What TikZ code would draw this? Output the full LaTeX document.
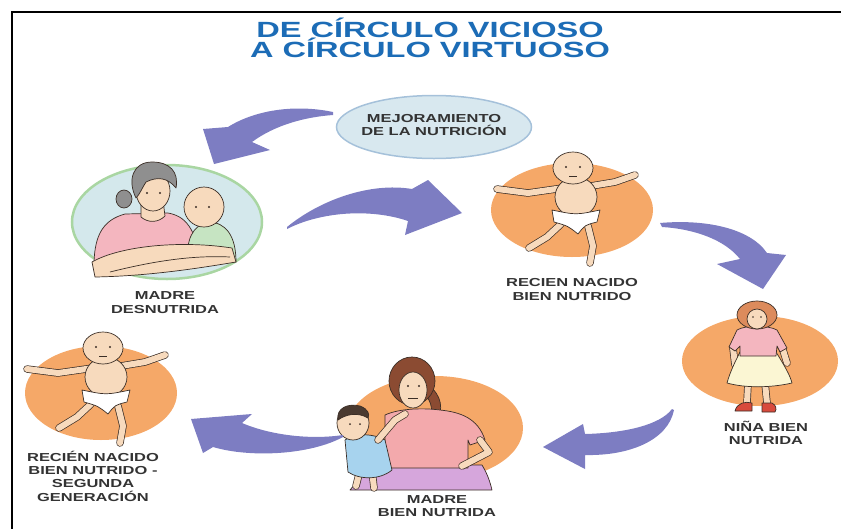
\documentclass[tikz,border=0pt]{standalone}
\usepackage{fontspec}
\newfontfamily\lblfont{Liberation Sans}[FakeStretch=1.42]
\newfontfamily\ttlfont{Liberation Sans}[FakeStretch=1.48]
\usetikzlibrary{shapes.geometric}
\definecolor{arrowc}{HTML}{7D7DC2}
\definecolor{orangec}{HTML}{F5A868}
\definecolor{skin}{HTML}{F7DABD}
\definecolor{outl}{HTML}{3B2E26}
\definecolor{titleblue}{HTML}{1C6CB6}
\definecolor{lblgray}{HTML}{333333}
\definecolor{palecirc}{HTML}{D4E8EC}
\definecolor{greenring}{HTML}{A9D6A2}
\definecolor{ellfill}{HTML}{D8E8EF}
\definecolor{elldraw}{HTML}{A5C1DA}
\definecolor{pinkshirt}{HTML}{F4B6BF}
\definecolor{greenshirt}{HTML}{C6E4C2}
\definecolor{grayhair}{HTML}{8F8F8F}
\definecolor{redhair}{HTML}{DC8B5C}
\definecolor{cream}{HTML}{FBF6D3}
\definecolor{shoered}{HTML}{D84A3C}
\definecolor{brownhair}{HTML}{8B4B32}
\definecolor{salmon}{HTML}{F3A9AC}
\definecolor{lavender}{HTML}{D6A6DC}
\definecolor{overall}{HTML}{A7D3EE}
\definecolor{darkhair}{HTML}{4A3A30}
\tikzset{
  bigarrow/.style={fill=arrowc, draw=none},
  lbl/.style={font={\lblfont\bfseries\fontsize{11.6}{13.3}\selectfont}, text=lblgray, align=center, inner sep=0pt},
  ttl/.style={font={\ttlfont\bfseries\fontsize{22}{20.5}\selectfont}, text=titleblue, align=center, inner sep=0pt},
  figline/.style={draw=outl, line width=0.7pt, line join=round},
  limb/.style={draw=outl, double=skin, double distance=6pt, line width=0.7pt, line cap=round, line join=round},
  orangedisc/.style={fill=orangec},
  baby/.pic={
    \draw[limb] (-12,56) -- (-26,69) -- (-44,80);
    \draw[limb] (15,58) -- (20,78) -- (17,95);
    \draw[limb] (-10,20) -- (-45,25) -- (-76,21);
    \draw[limb] (18,18) -- (42,14) -- (62,7);
    \draw[figline, fill=skin] (3,29) ellipse (21pt and 20pt);
    \draw[figline, fill=white] (-21,42) .. controls (3,47) .. (27,42) -- (24,54) .. controls (12,57) .. (5,66) .. controls (-5,58) .. (-19,54) -- cycle;
    \draw[figline, fill=skin] (0,0) ellipse (20pt and 16pt);
    \fill[outl] (-7,-1) circle (1.2pt) (7,-1) circle (1.2pt);
    \draw[outl, line width=0.6pt] (-4,8) -- (4,8);
  }
}
\begin{document}
\begin{tikzpicture}[x=1pt, y=-1pt]
\useasboundingbox (0,0) rectangle (841,528);
% frame
\draw[line width=2pt] (12,540) -- (12,12) -- (860,12);
% title
\node[ttl] (title) at (430,38) {DE CÍRCULO VICIOSO\\A CÍRCULO VIRTUOSO};

% ---------- backgrounds
\draw[fill=palecirc, draw=greenring, line width=2.5pt] (167,222) ellipse (95pt and 57pt);
\fill[orangedisc] (572,210) ellipse (81pt and 47pt);
\fill[orangedisc] (760,361) ellipse (78pt and 45pt);
\fill[orangedisc] (435,428) ellipse (88pt and 52pt);
\fill[orangedisc] (101,393) ellipse (76pt and 47pt);

% ---------- madre desnutrida
\draw[figline, fill=pinkshirt] (94,262) .. controls (95,235) and (103,220) .. (125,214) -- (168,213) .. controls (185,216) and (196,228) .. (200,262) -- cycle;
\draw[figline, fill=skin] (141,200) -- (141,217) .. controls (148,223) and (158,223) .. (165,216) -- (163,200) -- cycle;
\draw[figline, fill=grayhair] (124,199) ellipse (8pt and 9pt);
\draw[figline, fill=skin] (153,191) ellipse (17pt and 20pt);
\draw[figline, fill=grayhair] (136,198) .. controls (127,180) and (133,162) .. (152,162) .. controls (170,162) and (179,172) .. (176,188) .. controls (168,178) and (158,176) .. (146,182) .. controls (142,188) and (140,194) .. (136,198) -- cycle;
\fill[outl] (147,193) circle (1.1pt) (160,193) circle (1.1pt);
\draw[figline, fill=greenshirt] (188,262) .. controls (186,240) and (192,226) .. (208,222) .. controls (226,222) and (236,236) .. (236,262) -- cycle;
\draw[figline, fill=skin] (204,207) ellipse (20pt and 20pt);
\fill[outl] (196,207) circle (1.1pt) (209,207) circle (1.1pt);
\draw[figline, fill=skin] (92,262) .. controls (120,246) and (180,240) .. (232,248) -- (236,262) .. controls (200,268) and (150,276) .. (95,277) -- cycle;
\draw[figline] (110,272) .. controls (150,262) and (190,255) .. (230,257);

% ---------- babies
\pic at (573,168) {baby};
\pic at (103,348) {baby};

% ---------- nina
\draw[limb] (748,383) -- (747,403);
\draw[limb] (765,383) -- (767,403);
\draw[figline, fill=shoered] (735,411) .. controls (737,403) and (745,401) .. (752,403) -- (752,411) -- cycle;
\draw[figline, fill=shoered] (762,403) -- (772,403) .. controls (776,405) and (777,409) .. (775,412) -- (762,412) -- cycle;
\draw[limb] (733,348) -- (735,365);
\draw[limb] (783,350) -- (787,363);
\draw[figline, fill=cream] (740,352) -- (776,352) .. controls (784,365) and (790,375) .. (792,383) .. controls (770,388) and (745,388) .. (727,383) .. controls (730,372) and (735,362) .. (740,352) -- cycle;
\draw[figline, fill=pinkshirt] (737,330) .. controls (745,325) and (768,325) .. (777,330) -- (787,348) -- (780,352) -- (777,346) -- (776,356) -- (740,356) -- (740,346) -- (735,351) -- (729,347) -- cycle;
\draw[figline, fill=redhair] (757,315) ellipse (20pt and 14pt);
\draw[figline, fill=skin] (757,319) ellipse (10pt and 10pt);
\fill[outl] (753,317) circle (0.9pt) (761,317) circle (0.9pt);

% ---------- madre bien nutrida
\draw[figline, fill=lavender] (350,490) .. controls (360,478) and (368,470) .. (380,465) -- (482,465) .. controls (488,475) and (490,482) .. (492,490) -- cycle;
\draw[figline, fill=brownhair] (428,385) .. controls (442,395) and (444,410) .. (436,422) -- (430,420) .. controls (434,408) and (430,398) .. (422,392) -- cycle;
\draw[figline, fill=salmon] (385,415) .. controls (400,408) and (425,408) .. (440,410) .. controls (460,412) and (478,418) .. (485,440) -- (470,445) -- (468,440) -- (468,468) -- (385,468) -- cycle;
\draw[limb] (480,440) -- (489,452) -- (462,466);
\draw[figline, fill=brownhair] (412,381) ellipse (23pt and 24pt);
\draw[figline, fill=skin] (413,390) ellipse (14pt and 18pt);
\fill[outl] (408,386) circle (1.1pt) (419,386) circle (1.1pt);
\draw[outl, line width=0.6pt] (408,398) -- (418,398);
\draw[limb] (360,470) -- (356,486);
\draw[limb] (372,470) -- (374,488);
\draw[figline, fill=overall] (345,440) .. controls (355,432) and (375,434) .. (385,440) -- (392,470) .. controls (380,480) and (360,480) .. (348,472) -- cycle;
\draw[limb] (378,440) -- (395,420) -- (405,414);
\draw[figline, fill=skin] (353,423) ellipse (16pt and 17pt);
\draw[figline, fill=darkhair] (338,420) .. controls (336,408) and (348,403) .. (360,406) .. controls (368,409) and (370,414) .. (368,418) .. controls (358,412) and (346,414) .. (338,420) -- cycle;
\fill[outl] (350,424) circle (1pt) (360,424) circle (1pt);

% ---------- ellipse node
\node[ellipse, fill=ellfill, draw=elldraw, line width=1.5pt, minimum width=195pt, minimum height=63pt, inner sep=0pt] (mejell) at (434,127) {};

% ---------- labels
\node[lbl] (mej) at (434,125) {MEJORAMIENTO\\DE LA NUTRICIÓN};
\node[lbl] (madredes) at (165,302.5) {MADRE\\DESNUTRIDA};
\node[lbl] (rn) at (572,289.5) {RECIEN NACIDO\\BIEN NUTRIDO};
\node[lbl] (nina) at (766,433) {NIÑA BIEN\\NUTRIDA};
\node[lbl] (madrebien) at (437,506) {MADRE\\BIEN NUTRIDA};
\node[lbl] (rn2) at (93,476) {RECIÉN NACIDO\\BIEN NUTRIDO -\\SEGUNDA\\GENERACIÓN};

% ---------- arrows
\path[bigarrow] (333,112) .. controls (295,104) and (255,110) .. (228,127) -- (203,129) -- (214,164) -- (270,150) -- (252,142) .. controls (275,125) and (305,117) .. (333,115) -- cycle;
\path[bigarrow] (287,227) .. controls (320,200) and (370,182) .. (412,189) -- (428,180) -- (462,213) -- (405,235) -- (408,221) .. controls (370,208) and (320,212) .. (287,229) -- cycle;
\path[bigarrow] (660,223) .. controls (705,219) and (750,228) .. (767,253) -- (786,255) -- (763,289) -- (717,264) -- (740,259) .. controls (725,240) and (695,229) .. (662,227) -- cycle;
\path[bigarrow] (672,409) .. controls (660,425) and (625,433) .. (585,434) -- (583,424) -- (543,447) -- (585,469) -- (585,455) .. controls (630,456) and (668,440) .. (674,410) -- cycle;
\path[bigarrow] (343,435) .. controls (310,440) and (270,435) .. (242,423) -- (252,414) -- (191,419) -- (203,453) -- (213,447) .. controls (250,458) and (310,455) .. (343,437) -- cycle;
\end{tikzpicture}
\end{document}
